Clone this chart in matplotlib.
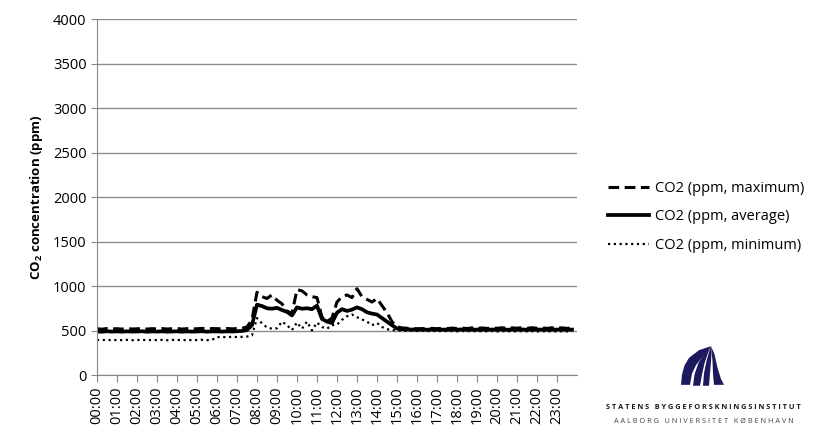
import numpy as np
import matplotlib.pyplot as plt

# 15-minute readings, 00:00 .. 23:45 (ppm)
co2_max = [
    520, 515, 522, 518, 520, 516, 523, 517,   # 00-01
    519, 524, 516, 521, 518, 522, 517, 520,   # 02-03
    523, 516, 521, 518, 520, 524, 517, 522,   # 04-05
    521, 518, 523, 519, 522, 525, 540, 620,   # 06-07
    930, 880, 860, 900, 840, 800, 720, 690,   # 08-09
    960, 945, 900, 880, 870, 650, 600, 640,   # 10-11
    820, 880, 900, 870, 970, 880, 850, 820,   # 12-13
    860, 780, 700, 600, 540, 530, 525, 522,   # 14-15
    520, 522, 518, 524, 520, 526, 521, 527,   # 16-17
    523, 528, 522, 530, 524, 529, 523, 530,   # 18-19
    525, 531, 524, 530, 526, 532, 525, 531,   # 20-21
    526, 530, 524, 531, 525, 530, 524, 528,   # 22-23
]
co2_avg = [
    490, 486, 492, 488, 490, 487, 491, 488,
    489, 492, 486, 490, 488, 491, 487, 489,
    491, 486, 490, 488, 489, 492, 487, 490,
    490, 488, 491, 489, 492, 495, 505, 560,
    790, 775, 750, 745, 755, 730, 710, 670,
    760, 745, 750, 740, 780, 630, 600, 585,
    700, 740, 720, 735, 760, 740, 705, 690,
    680, 640, 600, 560, 522, 516, 513, 511,
    510, 511, 509, 512, 510, 511, 509, 512,
    510, 512, 509, 511, 510, 512, 509, 511,
    510, 512, 509, 511, 510, 512, 509, 511,
    510, 511, 509, 511, 510, 511, 509, 510,
]
co2_min = [
    395, 392, 396, 390, 394, 392, 395, 391,
    393, 396, 391, 394, 392, 395, 391, 394,
    395, 391, 394, 392, 393, 396, 392, 395,
    425, 428, 424, 430, 426, 429, 432, 445,
    640, 580, 535, 520, 525, 600, 560, 505,
    590, 520, 600, 500, 590, 540, 520, 560,
    565, 620, 660, 680, 650, 625, 600, 560,
    585, 540, 515, 505, 500, 498, 496, 497,
    495, 497, 494, 496, 493, 496, 494, 495,
    492, 495, 493, 496, 491, 494, 492, 495,
    490, 494, 491, 493, 490, 494, 491, 493,
    490, 493, 490, 492, 489, 492, 490, 491,
]
hour_labels = ['%02d:00' % h for h in range(24)]

hours = np.arange(len(co2_avg)) * 0.25

plt.rcParams['font.family'] = ['Open Sans', 'DejaVu Sans']

fig = plt.figure(figsize=(8.17, 4.34), dpi=100)
ax = fig.add_axes([0.1187, 0.1359, 0.5875, 0.8203])

ax.plot(hours, co2_max, color='black', lw=2.2, ls=(0, (3.5, 1.8)), label='CO2 (ppm, maximum)')
ax.plot(hours, co2_avg, color='black', lw=2.7, label='CO2 (ppm, average)')
ax.plot(hours, co2_min, color='black', lw=1.6, ls=(0, (1, 1.6)), label='CO2 (ppm, minimum)')

ax.set_xlim(0, 24)
ax.set_ylim(0, 4000)
ax.set_yticks(range(0, 4001, 500))
ax.set_xticks(range(24))
ax.set_xticklabels(hour_labels, rotation=90, fontsize=10.5)
ax.tick_params(axis='y', labelsize=10.5, length=4, color='#888888')
ax.tick_params(axis='x', length=5, color='#888888')
ax.grid(axis='y', color='#8c8c8c', lw=1)
ax.set_axisbelow(True)
for s in ['top', 'right']:
    ax.spines[s].set_visible(False)
for s in ['left', 'bottom']:
    ax.spines[s].set_color('#888888')

ax.set_ylabel('CO$_\\mathregular{2}$ concentration (ppm)', fontsize=9.5, fontweight='bold', labelpad=6)

leg = fig.legend(loc='center left', bbox_to_anchor=(0.728, 0.5), frameon=False,
                 fontsize=10.5, handlelength=2.8, handletextpad=0.4, labelspacing=0.95)

# logo: four curved stripes fanning down from a common tip
navy = '#1c1a5c'
lax = fig.add_axes([676 / 817, 1 - 388 / 434, 50 / 817, 45 / 434])
lax.set_xlim(0, 1)
lax.set_ylim(0, 1)
lax.axis('off')
tip = (0.70, 0.93)
stripes = [
    ([(0.10, 0.07), (0.12, 0.30), (0.17, 0.50), (0.26, 0.67), (0.46, 0.84)],
     [(0.56, 0.73), (0.40, 0.51), (0.32, 0.32), (0.28, 0.07)]),
    ([(0.34, 0.05), (0.37, 0.30), (0.45, 0.56), (0.58, 0.78)],
     [(0.64, 0.78), (0.57, 0.55), (0.52, 0.30), (0.48, 0.05)]),
    ([(0.54, 0.05), (0.56, 0.33), (0.61, 0.60), (0.66, 0.80)],
     [(0.71, 0.78), (0.70, 0.58), (0.68, 0.33), (0.66, 0.05)]),
    ([(0.76, 0.07), (0.74, 0.32), (0.73, 0.60), (0.71, 0.82)],
     [(0.77, 0.75), (0.83, 0.45), (0.90, 0.20), (0.96, 0.07)]),
]
for left, right in stripes:
    pts = np.array(left + [tip] + right)
    lax.fill(pts[:, 0], pts[:, 1], color=navy, lw=0)

fig.text(0.861, 0.0622, 'S T A T E N S   B Y G G E F O R S K N I N G S I N S T I T U T',
         fontsize=5.3, fontweight='bold', color='#1a1a1a', ha='center', va='center')
fig.text(0.861, 0.030, 'A A L B O R G   U N I V E R S I T E T   K Ø B E N H A V N',
         fontsize=5.3, color='#444444', ha='center', va='center')

fig.savefig('out.png', dpi=100)
